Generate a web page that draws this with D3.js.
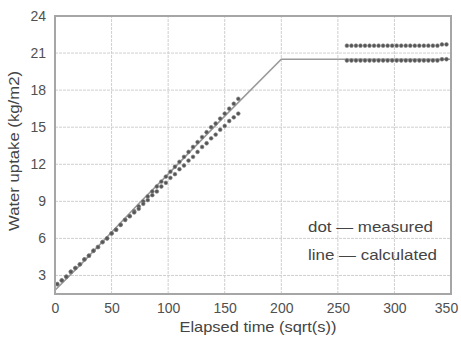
<!DOCTYPE html>
<html><head><meta charset="utf-8">
<script src="https://cdn.jsdelivr.net/npm/d3@7"></script>
<style>
body{margin:0;background:#fff;}
text{font-family:"Liberation Sans",Arial,sans-serif;fill:#444;}
</style></head>
<body><svg id="c" width="461" height="338"></svg>
<script>
// ---- data ----
const xTicks = [0,50,100,150,200,250,300,350];
const yTicks = [3,6,9,12,15,18,21,24];
const xLabel = "Elapsed time (sqrt(s))";
const yLabel = "Water uptake (kg/m2)";
const legendLines = ["dot \u2014 measured","line \u2014 calculated"];

// calculated line
const calcX = [0,25,50,75,100,150,200,350];
const calcY = [1.8,4.1,6.5,8.9,11.2,15.9,20.5,20.5];

// measured, rising part (two specimens)
const measX  = [2,6,10,14,18,22,26,30,34,38,42,46,50,54,58,62,66,70,74,78,82,86,90,94,98,102,106,110,114,118,122,126,130,134,138,142,146,150,154,158,162];
const measY1 = [2.3,2.6,2.9,3.3,3.6,3.9,4.3,4.6,5.0,5.3,5.7,6.0,6.4,6.7,7.1,7.5,7.8,8.2,8.6,9.0,9.4,9.8,10.2,10.6,11.0,11.4,11.8,12.2,12.6,13.0,13.4,13.8,14.2,14.6,15.0,15.3,15.7,16.1,16.5,16.9,17.3];
const measY2 = [2.3,2.6,2.9,3.3,3.6,3.9,4.3,4.6,5.0,5.3,5.7,6.0,6.4,6.7,7.1,7.5,7.8,8.1,8.4,8.8,9.1,9.5,9.8,10.2,10.5,10.9,11.2,11.6,11.9,12.3,12.6,13.0,13.4,13.7,14.1,14.4,14.8,15.1,15.5,15.8,16.1];

// measured, saturated part
const flatX  = [258,262,266,270,274,278,282,286,290,294,298,302,306,310,314,318,322,326,330,334,338,342,346];
const flatY1 = [21.6,21.6,21.6,21.6,21.6,21.6,21.6,21.6,21.6,21.6,21.6,21.6,21.6,21.6,21.6,21.6,21.6,21.6,21.6,21.6,21.6,21.7,21.7];
const flatY2 = [20.4,20.4,20.4,20.4,20.4,20.4,20.4,20.4,20.4,20.4,20.4,20.4,20.4,20.4,20.4,20.4,20.4,20.4,20.4,20.4,20.4,20.5,20.5];

// ---- layout ----
const W = 461, H = 338;
const m = {left:55, right:10, top:16, bottom:44};
const svg = d3.select("#c");
const x = d3.scaleLinear().domain([0,350]).range([m.left, W-m.right]);
const y = d3.scaleLinear().domain([1.5,24]).range([H-m.bottom, m.top]);

// grid
const g = svg.append("g");
g.selectAll("line.vx").data(xTicks.slice(1,-1)).join("line")
  .attr("x1",d=>x(d)).attr("x2",d=>x(d)).attr("y1",y(1.5)).attr("y2",y(24))
  .attr("stroke","#cfcfcf").attr("stroke-width",1).attr("stroke-dasharray","3,1");
g.selectAll("line.hy").data(yTicks.slice(0,-1)).join("line")
  .attr("y1",d=>y(d)).attr("y2",d=>y(d)).attr("x1",x(0)).attr("x2",x(350))
  .attr("stroke","#cfcfcf").attr("stroke-width",1).attr("stroke-dasharray","3,1");

// calculated line
const calc = calcX.map((d,i)=>[d,calcY[i]]);
svg.append("path").datum(calc)
  .attr("d", d3.line().x(d=>x(d[0])).y(d=>y(d[1])))
  .attr("fill","none").attr("stroke","#9a9a9a").attr("stroke-width",1.6);

// measured dots
const dots = [];
measX.forEach((d,i)=>{dots.push([d,measY1[i]]);dots.push([d,measY2[i]]);});
flatX.forEach((d,i)=>{dots.push([d,flatY1[i]]);dots.push([d,flatY2[i]]);});
svg.append("g").selectAll("circle").data(dots).join("circle")
  .attr("cx",d=>x(d[0])).attr("cy",d=>y(d[1])).attr("r",1.9)
  .attr("fill","#555").attr("stroke","#888").attr("stroke-width",0.6);

// frame
svg.append("rect").attr("x",x(0)).attr("y",y(24)).attr("width",x(350)-x(0)).attr("height",y(1.5)-y(24))
  .attr("fill","none").attr("stroke","#a6a6a6").attr("stroke-width",2);

// axes
const xa = svg.append("g").attr("transform",`translate(0,${y(1.5)})`)
  .call(d3.axisBottom(x).tickValues(xTicks).tickSize(0).tickPadding(9));
xa.select(".domain").remove();
xa.selectAll("text").attr("font-size",14).style("fill","#505050")
  .attr("dx",d=>d===350?-5:0);
const ya = svg.append("g").attr("transform",`translate(${x(0)},0)`)
  .call(d3.axisLeft(y).tickValues(yTicks).tickSize(0).tickPadding(9));
ya.select(".domain").remove();
ya.selectAll("text").attr("font-size",14).style("fill","#505050");

// axis titles
svg.append("text").attr("x",258).attr("y",332).attr("text-anchor","middle")
  .attr("font-size",15).attr("textLength",157).attr("lengthAdjust","spacingAndGlyphs").text(xLabel);
svg.append("text").attr("transform",`translate(19,151) rotate(-90)`)
  .attr("text-anchor","middle").attr("font-size",15).attr("textLength",160).attr("lengthAdjust","spacingAndGlyphs").text(yLabel);

// legend
const legW = [125,129];
svg.selectAll("text.leg").data(legendLines).join("text")
  .attr("class","leg").attr("x",308).attr("y",(d,i)=>232+i*28)
  .attr("font-size",15).attr("textLength",(d,i)=>legW[i]).attr("lengthAdjust","spacingAndGlyphs").text(d=>d);
</script></body></html>
